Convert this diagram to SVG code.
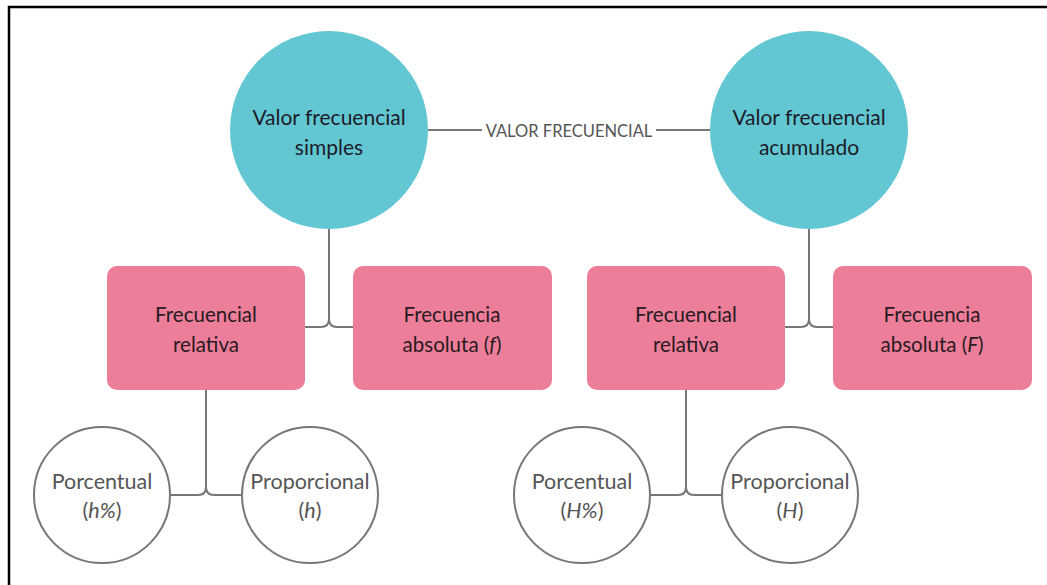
<svg xmlns="http://www.w3.org/2000/svg" width="1047" height="585" viewBox="0 0 1047 585">
<style>
.bg{fill:#ffffff}
.frame{fill:none;stroke:#000;stroke-width:2.5}
.top{fill:#63c7d3}
.box{fill:#ec7e99}
.leaf{fill:#fff;stroke:#777;stroke-width:2}
.con{fill:none;stroke:#777;stroke-width:2}
text{font-family:Lato,"Open Sans","Liberation Sans",sans-serif;text-anchor:middle}
.t1{font-size:21px;fill:#1c1c28}
.t2{font-size:20.5px;fill:#2a1a22}
.t3{font-size:21.5px;fill:#555}
.lbl{font-size:16.5px;fill:#555}
</style>
<rect class="bg" x="0" y="0" width="1047" height="585"/>
<path class="frame" d="M9,585 V7 H1047"/>
<g id="connectors">
<path class="con" d="M428,130 H482 M656,130 H711"/>
<path class="con" d="M329,229 V319 Q329,327 321,327 H305 M329,319 Q329,327 337,327 H353"/>
<path class="con" d="M809,229 V319 Q809,327 801,327 H785 M809,319 Q809,327 817,327 H833"/>
<path class="con" d="M206,390 V487 Q206,495 198,495 H171 M206,487 Q206,495 214,495 H242"/>
<path class="con" d="M686,390 V487 Q686,495 678,495 H651 M686,487 Q686,495 694,495 H722"/>
<text class="lbl" x="569" y="137">VALOR FRECUENCIAL</text>
</g>
<g id="n-simples">
<circle class="top" cx="329" cy="130" r="99"/>
<text class="t1" x="329" y="125">Valor frecuencial</text>
<text class="t1" x="329" y="155">simples</text>
</g>
<g id="n-acumulado">
<circle class="top" cx="809" cy="130" r="99"/>
<text class="t1" x="809" y="125">Valor frecuencial</text>
<text class="t1" x="809" y="155">acumulado</text>
</g>
<g id="n-rel1">
<rect class="box" x="107" y="266" width="198" height="124" rx="10"/>
<text class="t2" x="206" y="322">Frecuencial</text>
<text class="t2" x="206" y="352">relativa</text>
</g>
<g id="n-abs1">
<rect class="box" x="353" y="266" width="199" height="124" rx="10"/>
<text class="t2" x="452" y="322">Frecuencia</text>
<text class="t2" x="452" y="352">absoluta (<tspan font-style="italic">f</tspan>)</text>
</g>
<g id="n-rel2">
<rect class="box" x="587" y="266" width="198" height="124" rx="10"/>
<text class="t2" x="686" y="322">Frecuencial</text>
<text class="t2" x="686" y="352">relativa</text>
</g>
<g id="n-abs2">
<rect class="box" x="833" y="266" width="199" height="124" rx="10"/>
<text class="t2" x="932" y="322">Frecuencia</text>
<text class="t2" x="932" y="352">absoluta (<tspan font-style="italic">F</tspan>)</text>
</g>
<g id="n-porc1">
<circle class="leaf" cx="102" cy="495" r="68"/>
<text class="t3" x="102" y="489">Porcentual</text>
<text class="t3" x="102" y="518">(<tspan font-style="italic">h%</tspan>)</text>
</g>
<g id="n-prop1">
<circle class="leaf" cx="310" cy="495" r="68"/>
<text class="t3" x="310" y="489">Proporcional</text>
<text class="t3" x="310" y="518">(<tspan font-style="italic">h</tspan>)</text>
</g>
<g id="n-porc2">
<circle class="leaf" cx="582" cy="495" r="68"/>
<text class="t3" x="582" y="489">Porcentual</text>
<text class="t3" x="582" y="518">(<tspan font-style="italic">H%</tspan>)</text>
</g>
<g id="n-prop2">
<circle class="leaf" cx="790" cy="495" r="68"/>
<text class="t3" x="790" y="489">Proporcional</text>
<text class="t3" x="790" y="518">(<tspan font-style="italic">H</tspan>)</text>
</g>
</svg>
